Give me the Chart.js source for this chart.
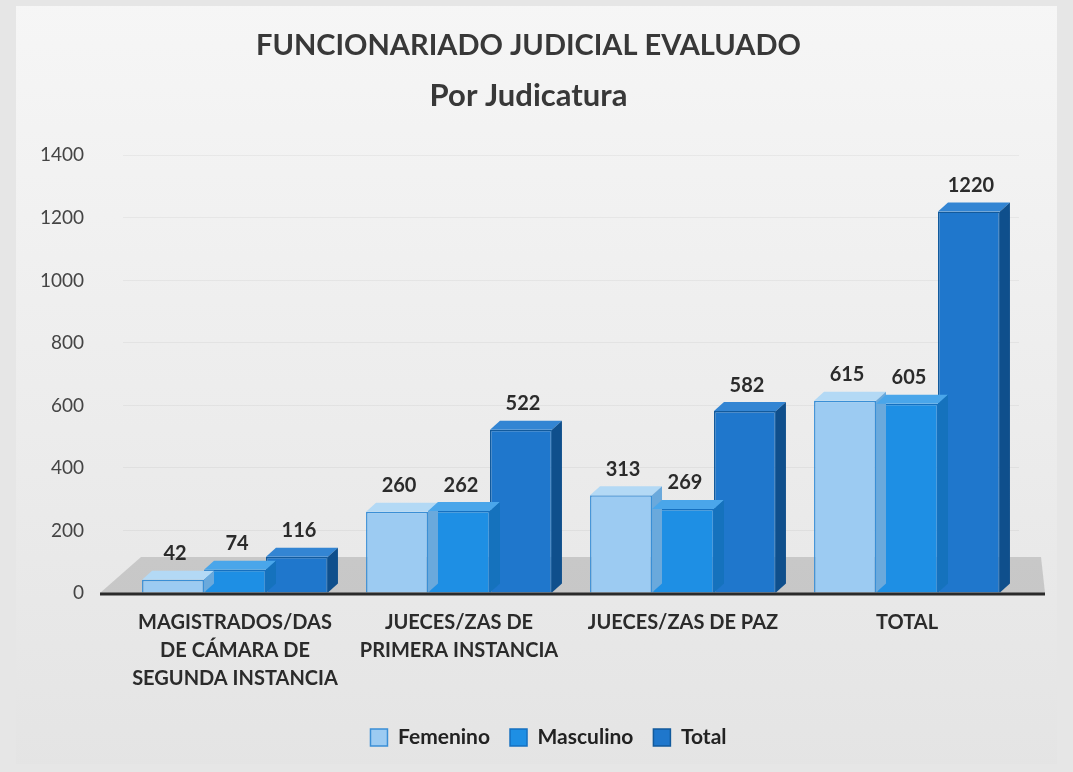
<!DOCTYPE html>
<html>
<head>
<meta charset="utf-8">
<script src="https://cdn.jsdelivr.net/npm/chart.js@4/dist/chart.umd.min.js"></script>
<style>
html,body{margin:0;padding:0;background:#ececec;}
#wrap{width:1073px;height:772px;position:relative;}
</style>
</head>
<body>
<div id="wrap"><canvas id="c" width="1073" height="772"></canvas></div>
<script>
const categories = [
  ["MAGISTRADOS/DAS", "DE CÁMARA DE", "SEGUNDA INSTANCIA"],
  ["JUECES/ZAS DE", "PRIMERA INSTANCIA"],
  ["JUECES/ZAS DE PAZ"],
  ["TOTAL"]
];
const femenino = [42, 260, 313, 615];
const masculino = [74, 262, 269, 605];
const total = [116, 522, 582, 1220];
const yTicks = [0, 200, 400, 600, 800, 1000, 1200, 1400];

const FONT = "Lato, 'Open Sans', sans-serif";
const DX = 10, DY = 9;
const topColors = ['#b3d9f5', '#4aa6ea', '#3385d3'];
const sideColors = ['#6aa9dc', '#1572bd', '#0f4f8c'];

function shade(ctx, pts, color) {
  ctx.beginPath();
  ctx.moveTo(pts[0][0], pts[0][1]);
  for (let i = 1; i < pts.length; i++) ctx.lineTo(pts[i][0], pts[i][1]);
  ctx.closePath();
  ctx.fillStyle = color;
  ctx.fill();
}

const floor = {
  id: 'floor',
  beforeDatasetsDraw(chart) {
    const ctx = chart.ctx, a = chart.chartArea;
    ctx.save();
    shade(ctx, [[a.left - 23, a.bottom], [a.right + 26, a.bottom], [a.right + 22, a.bottom - 36], [a.left + 18, a.bottom - 36]], 'rgba(160,160,160,0.45)');
    ctx.restore();
  },
  afterDatasetsDraw(chart) {
    const ctx = chart.ctx, a = chart.chartArea;
    ctx.save();
    ctx.strokeStyle = '#2a2a2a';
    ctx.lineWidth = 3;
    ctx.beginPath();
    ctx.moveTo(a.left - 23, a.bottom + 1);
    ctx.lineTo(a.right + 26, a.bottom + 1);
    ctx.stroke();
    ctx.restore();
  },
  afterLayout(chart) {
    if (chart.legend) { chart.legend.left += 20; chart.legend.right += 20; }
  }
};

const depth = {
  id: 'depth',
  afterDatasetsDraw(chart) {
    const ctx = chart.ctx;
    ctx.save();
    chart.data.datasets.forEach((ds, i) => {
      const meta = chart.getDatasetMeta(i);
      meta.data.forEach((bar) => {
        const l = bar.x - bar.width / 2, r = bar.x + bar.width / 2;
        const t = bar.y, b = bar.base;
        shade(ctx, [[l, t], [r, t], [r + DX, t - DY], [l + DX, t - DY]], topColors[i]);
        shade(ctx, [[r, t], [r + DX, t - DY], [r + DX, b - DY], [r, b]], sideColors[i]);
      });
    });
    ctx.font = "bold 20px " + FONT;
    ctx.fillStyle = '#2b2b2b';
    ctx.textAlign = 'center';
    ctx.textBaseline = 'bottom';
    chart.data.datasets.forEach((ds, i) => {
      const meta = chart.getDatasetMeta(i);
      meta.data.forEach((bar, j) => {
        ctx.fillText(String(ds.data[j]), bar.x + 2, bar.y - DY - 7);
      });
    });
    ctx.restore();
  }
};

const bg = {
  id: 'bg',
  beforeDraw(chart) {
    const ctx = chart.ctx;
    ctx.save();
    ctx.fillStyle = '#e6e6e6';
    ctx.fillRect(0, 0, chart.width, chart.height);
    const g = ctx.createLinearGradient(0, 0, 0, chart.height);
    g.addColorStop(0, '#f6f6f6');
    g.addColorStop(1, '#e4e4e4');
    ctx.fillStyle = g;
    ctx.fillRect(16, 6, chart.width - 32, chart.height - 14);
    ctx.restore();
  }
};

new Chart(document.getElementById('c'), {
  type: 'bar',
  data: {
    labels: categories,
    datasets: [
      { label: 'Femenino', data: femenino, backgroundColor: '#9ccbf2', borderColor: '#3a8fd6', borderWidth: 1.5 },
      { label: 'Masculino', data: masculino, backgroundColor: '#1e8fe4', borderColor: '#1570c0', borderWidth: 1.5 },
      { label: 'Total', data: total, backgroundColor: '#1f77cc', borderColor: '#125a9c', borderWidth: 1.5 }
    ]
  },
  options: {
    responsive: false,
    animation: false,
    layout: { padding: { left: 38, right: 54, top: 20, bottom: 14 } },
    categoryPercentage: 0.83,
    barPercentage: 1.0,
    plugins: {
      title: {
        display: true,
        text: 'FUNCIONARIADO JUDICIAL EVALUADO',
        font: { family: FONT, size: 29, weight: 'bold', lineHeight: 1.75 },
        color: '#383838',
        padding: { top: 0, bottom: 0 }
      },
      subtitle: {
        display: true,
        text: 'Por Judicatura',
        font: { family: FONT, size: 31, weight: 'bold', lineHeight: 1.6 },
        color: '#383838',
        padding: { top: 0, bottom: 35 }
      },
      legend: {
        position: 'bottom',
        labels: {
          font: { family: FONT, size: 21, weight: 'bold' },
          color: '#222',
          boxWidth: 17,
          boxHeight: 17,
          padding: 20
        }
      },
      tooltip: { enabled: false }
    },
    scales: {
      x: {
        grid: { display: false },
        border: { display: false },
        afterFit(axis) { axis.paddingLeft = 0; axis.paddingRight = 0; axis.height += 6; },
        ticks: {
          font: { family: FONT, size: 20, weight: 'bold', lineHeight: 1.4 },
          color: '#2b2b2b',
          maxRotation: 0,
          padding: 8
        }
      },
      y: {
        min: 0,
        max: 1400,
        afterFit(axis) { axis.width = 85; },
        afterBuildTicks(axis) { axis.ticks = yTicks.map(v => ({ value: v })); },
        grid: { color: 'rgba(0,0,0,0.045)', drawTicks: false },
        border: { display: false },
        ticks: {
          font: { family: FONT, size: 19 },
          color: '#444',
          padding: 39,
          callback: (v) => String(v)
        }
      }
    }
  },
  plugins: [bg, floor, depth]
});
</script>
</body>
</html>
